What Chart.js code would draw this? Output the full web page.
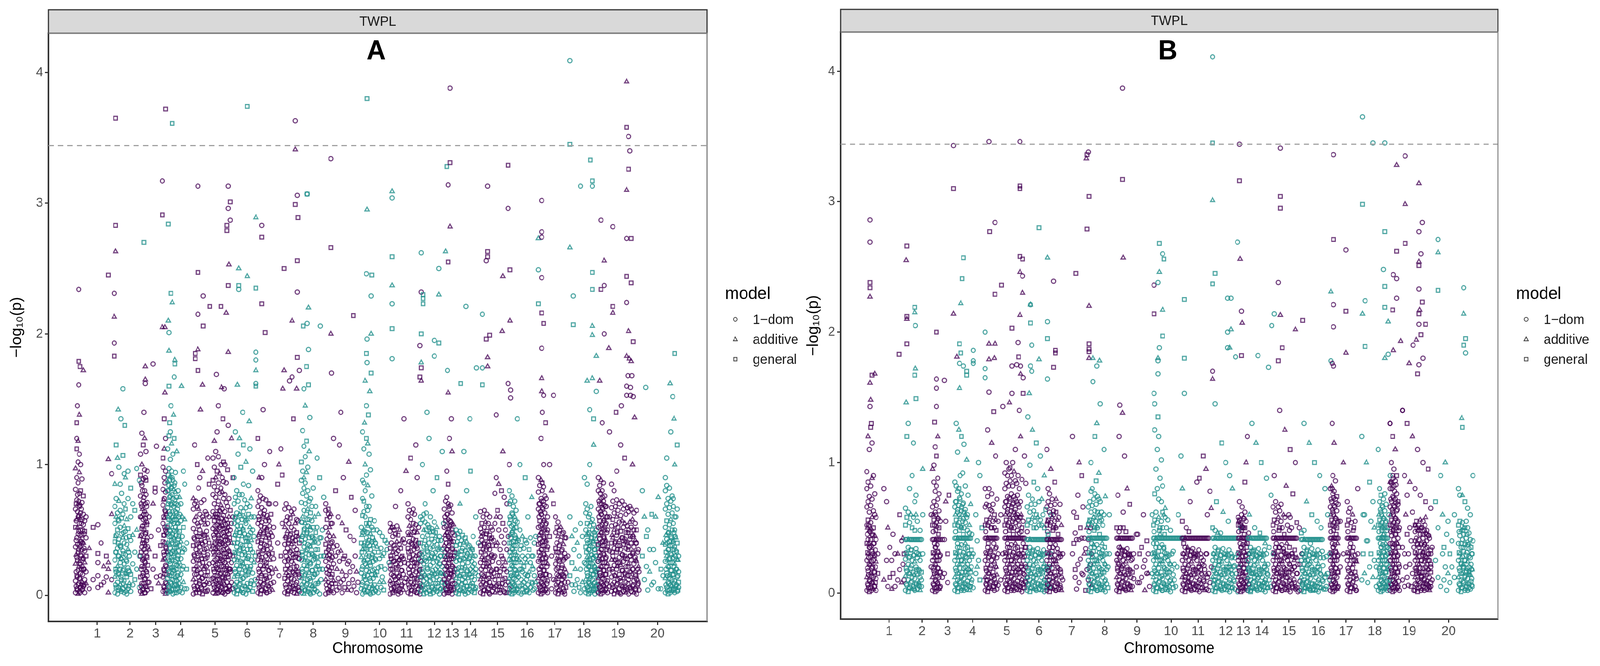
<!DOCTYPE html>
<html>
<head>
<meta charset="utf-8">
<script src="https://cdn.jsdelivr.net/npm/chart.js@4.4.1/dist/chart.umd.min.js"></script>
<style>
  html, body { margin: 0; padding: 0; background: #fff; overflow: hidden; }
  #page { position: relative; width: 4230px; height: 1704px; transform-origin: 0 0; }
  .panel { position: absolute; top: 0; height: 1704px; }
</style>
</head>
<body>
<div id="page">
  <div class="panel" style="left:0;width:2120px"><canvas id="chartA" width="2120" height="1704"></canvas></div>
  <div class="panel" style="left:2120px;width:2110px"><canvas id="chartB" width="2110" height="1704"></canvas></div>
</div>
<script>
// chromosome labels and their tick positions on the cumulative position axis (0..1000)
const chromosomes = ["1","2","3","4","5","6","7","8","9","10","11","12","13","14","15","16","17","18","19","20"];
const tickPos = [74,124,163,201,253,302,352,402,451,503,544,586,613,641,682,727,769,813,865,925];
const yTicks = [0, 1, 2, 3, 4];
const threshold = 3.44;
const models = ["1\u2212dom", "additive", "general"];

// upper markers, one string per chromosome: <model><position>:<-log10 p>
// model letters: c = 1-dom, t = additive, s = general
const topA = [
"s102:3.65 s102:2.83 t102:2.63 s91:2.45 c46:2.34 c100:2.31 t100:2.13 c100:1.93 s100:1.83 s46:1.79 s48:1.75 t53:1.72 c46:1.61 c44:1.45 t47:1.38 s43:1.32",
"s145:2.7 c113:1.58 t106:1.42 c110:1.35 s116:1.3",
"s178:3.72 c173:3.17 s173:2.91 t173:2.05 t177:2.05 c159:1.77 t147:1.75 t147:1.65 c147:1.62 t177:1.55 c145:1.4 s176:1.35",
"s188:3.61 s182:2.84 s186:2.31 t188:2.24 t182:2.1 c183:2.01 t183:1.87 t192:1.8 s192:1.77 c191:1.67 s183:1.6 t202:1.6 c186:1.45 t190:1.38 s184:1.32",
"c227:3.13 c273:3.13 s276:3.01 c273:2.96 c276:2.87 s271:2.83 s271:2.79 t274:2.53 s227:2.47 s273:2.37 c235:2.29 s245:2.21 s262:2.21 t270:2.16 c227:2.15 s235:2.06 t227:1.88 t273:1.86 s223:1.85 s223:1.81 s227:1.72 c255:1.69 t234:1.61 t263:1.59 c267:1.58 c258:1.45 t231:1.42 s265:1.35 c273:1.3",
"s302:3.74 t315:2.89 t289:2.5 t302:2.44 s289:2.37 s315:2.35 c289:2.34 c315:1.86 c315:1.8 t315:1.72 c315:1.62 t287:1.61 s315:1.6 c295:1.4 t305:1.33",
"c375:3.63 t375:3.41 c378:3.06 s375:2.99 s379:2.89 c324:2.83 s324:2.74 s378:2.56 s358:2.5 c378:2.32 s324:2.23 t370:2.1 s329:2.01 s378:1.82 t358:1.72 c381:1.72 c370:1.67 c366:1.64 t356:1.58 t377:1.58 c326:1.42 s372:1.35",
"c393:3.07 s393:3.07 t395:2.2 c393:2.08 s387:2.06 c413:2.06 c395:1.88 s392:1.75 s395:1.61 c388:1.58 t390:1.45 c397:1.36",
"c429:3.34 s429:2.66 s463:2.14 t429:2 c430:1.7 c444:1.4",
"s484:3.8 t522:3.09 c522:3.04 t484:2.95 s522:2.59 c483:2.46 s491:2.45 t522:2.37 c490:2.29 c522:2.23 s522:2.04 t490:2 c484:1.96 s483:1.85 c522:1.81 c484:1.78 s490:1.7 t481:1.64 t488:1.56 c483:1.45 s486:1.38 t480:1.32",
"c566:2.32 c564:1.91 s566:1.74 s564:1.67 t566:1.64 c540:1.35",
"s605:3.28 t603:2.63 c566:2.62 c593:2.5 t593:2.3 s569:2.3 s569:2.27 s569:2.23 s566:2 c586:1.95 s593:1.93 c586:1.83 t566:1.78 c606:1.72 c575:1.4",
"c610:3.88 s610:3.31 c607:3.14 t610:2.82 s607:2.55 t607:1.55 c612:1.35",
"c634:2.21 c659:2.15 c650:1.74 c659:1.74 s626:1.62 s659:1.61 c640:1.35",
"s698:3.29 c667:3.13 c698:2.96 s667:2.63 s667:2.59 c665:2.56 s701:2.49 t690:2.44 t701:2.1 t689:2.02 s670:1.99 s665:1.96 t667:1.82 t667:1.75 c698:1.62 c702:1.57 c702:1.51 c680:1.38",
"t744:2.73 c744:2.49 s744:2.23 c712:1.35",
"c749:3.02 c749:2.78 c749:2.74 c749:2.43 s749:2.16 s752:2.08 c749:1.89 t749:1.66 t749:1.56 c752:1.53 c767:1.53 c750:1.4 s755:1.32",
"c792:4.09 s792:3.45 s823:3.33 s826:3.17 c808:3.13 c826:3.13 t792:2.66 s826:2.47 s826:2.34 c797:2.29 s797:2.07 t826:2.06 t826:1.99 t832:1.83 t826:1.66 t818:1.64 c832:1.56 c822:1.42 s828:1.35",
"t878:3.93 s878:3.58 c881:3.51 c883:3.4 s881:3.26 t878:3.1 c839:2.87 c857:2.82 c878:2.73 s885:2.73 t844:2.56 s878:2.44 s885:2.39 c844:2.37 s839:2.34 c878:2.24 s857:2.21 t857:2.16 t881:2.02 c844:2 s888:1.94 t851:1.89 t878:1.83 t882:1.81 t885:1.79 c880:1.68 c886:1.68 t837:1.64 c878:1.6 c884:1.59 c878:1.53 c884:1.53 c888:1.52 c870:1.45 s862:1.4 t890:1.36 c841:1.32",
"s951:1.85 t944:1.62 c907:1.59 c948:1.52 t950:1.35"
];

// lower markers, grouped by position: "<position>:<model><-log10 p> ...; ..."
const coreA = [
"41:c.02 c.11 t.24 c.37 s.52 c.66 c.81 t.97; 43:c.05 s.15 c.29 c.44 t.58 c.73 c.9 s1.12 c1.2; 45:t.01 c.08 c.19 s.33 c.47 c.6 t.7 c.86 c1.02 t1.18; 47:c.03 c.13 t.26 c.39 c.55 s.68 c.78 t.94 c1.08; 49:s.06 c.17 c.31 t.42 c.5 c.63 s.8 c1; 51:c.04 t.1 c.22 c.35 s.46 c.58 c.71 c.89; 53:c.07 s.2 c.28 t.4 c.54 c.62 s.76; 55:c.02 c.12 t.25 c.34 s.49 c.57; 57:t.09 c.18 s.3 c.44 c.6; 62:c.05 t.36; 68:c.12 s.52; 75:c.54 s.32 c.25 c.15 c.06; 80:s.08 c.4; 84:c.1 t.22; 88:c.14 s.3; 91:t1.04 t.25 t.2 t.02; 96:c.93 t.62 c.12",
"101:c.02 t.14 c.27 s.41 c.55 c.68 t.85; 103:s.06 c.18 c.33 c.46 t.6 c.74 s1.15; 105:c.01 c.1 t.22 c.36 s.5 c.63 t1.05; 107:c.04 s.16 c.3 c.43 c.57 t.72 c.98; 109:t.08 c.2 c.25 s.38 c.52 c.65 c.85; 111:c.03 c.12 t.28 c.47 s.59 c.78; 113:s.05 c.19 c.34 t.44 c.62 s1.07; 115:c.02 c.11 s.24 c.4 t.53 c.7 c.93; 117:c.07 t.17 c.31 c.49 s.66 t.9; 119:c.01 s.14 c.26 c.39 t.58; 121:c.05 c.21 t.35 s.51 c.74 c.95; 123:t.09 c.18 c.3 s.45; 125:c.03 s.16 c.42 c.6 s.82; 128:c.08 c.24 t.46 c.7; 131:s.12 c.33 s.65; 134:c.2 t.5 c.97; 138:c.06 c.3 c.88",
"140:c.03 s.14 c.3 t.45 c.6 c.76 s.92 c1.08; 142:t.01 c.09 c.22 c.37 s.51 c.68 c.84 t1 c1.24; 144:c.05 c.17 t.28 s.42 c.58 c.72 c.89 s1.15; 146:s.02 c.12 c.26 c.4 t.55 c.64 c.8 c.96 t1.2; 148:c.07 t.19 c.33 s.48 c.62 c.77 s.88 c1.1; 150:c.04 c.15 s.29 c.44 t.56 c.71 c.95; 153:c.1 t.35 c.6; 156:s.05 c.45; 159:c.2 t.7; 162:s.3 c.79 s.82; 164:c.14 c1.14; 167:t.09 c.5; 170:c.15 s.38; 174:c.03 c.14 t.27 s.41 c.55 c.69 c.81 c.98 s1.05; 176:c.06 s.19 c.31 c.46 t.59 c.74 c.9 t1.12; 178:t.01 c.1 c.23 c.37 c.5 s.64 c.79 c.95 c1.2; 180:c.04 c.16 t.33 c.52",
"181:c.02 s.13 c.27 t.4 c.53 c.67 s.8 t.87 c1.12; 183:c.06 c.18 t.31 c.45 s.58 c.72 c.84 c.97 s1.22; 185:t.03 c.1 c.24 s.36 c.49 c.62 c.76 t.91 c1.04 c1.25; 187:c.05 s.15 c.29 c.42 t.56 c.69 s.83 c.95 t1.16; 189:c.01 c.12 t.21 c.34 c.47 s.6 c.74 c.88 c1.08; 191:s.08 c.19 c.32 t.44 c.58 c.7 c.84 s1.2; 193:c.04 t.14 c.26 s.39 c.52 c.64 t.79 c.94; 195:c.02 c.11 c.23 s.37 t.5 c.63 c.75 t1.1; 197:t.07 c.17 s.3 c.43 c.55 c.69 c.8; 199:c.03 c.13 t.25 c.38 s.49 c.62 t.75; 201:s.06 c.16 c.28 t.41 c.57 c.7; 203:c.02 c.2 s.33 c.45 t.6; 205:t.1 c.22 c.36 s.52 c.95; 207:c.05 c.35 t.58 c.85; 210:c.05 s.2 c.4",
"220:c.01 t.12 c.26 s.38 c.51 c.66 t.74; 222:c.05 c.16 s.3 c.43 c.57 c.7 c1.15; 224:s.02 c.1 t.22 c.35 c.48 t.6 c.72; 226:c.07 c.19 c.32 s.45 c.55 c.68 s1; 228:t.04 c.14 c.27 c.4 s.53 t.66 c.82; 230:c.02 s.11 c.24 c.37 c.5 c.62 c.9; 232:c.06 c.17 t.3 s.42 c.56 c.71; 234:s.01 c.13 c.25 c.39 t.47 c.6 t.95; 236:c.08 t.2 c.33 c.46 s.58 c.73; 238:c.03 c.15 s.28 c.41 t.54 c.64; 240:t.1 c.22 c.36 c.49 s.62; 242:c.04 s.18 c.31 t.44 c.55 c1.05; 244:c.09 c.24 s.4 c.6 s.85; 247:c.12 t.35; 250:c.02 s.13 c.25 t.38 c.51 c.64 c.77 s.88 c1.05; 252:c.06 c.18 t.31 c.44 s.57 c.7 c.83 c.98 t1.18; 254:t.01 c.11 c.23 c.36 c.49 s.62 c.75 t.9 c1.1; 256:c.04 s.15 c.28 t.41 c.54 c.67 c.8 s.95 c1.25; 258:s.08 c.2 c.33 c.46 t.59 c.72 c.86 c1.06; 260:c.03 c.12 t.26 s.39 c.52 c.65 c.78 t.93; 262:c.06 c.17 c.3 c.43 s.56 t.69 c.82 c1; 264:t.02 s.14 c.27 c.4 c.53 c.66 t.79 c.9; 266:c.09 c.22 s.35 c.48 c.61 c.74 c.87 s1.02; 268:c.01 t.13 c.25 c.38 s.51 c.64 c.77 c1; 270:s.05 c.19 c.32 t.45 c.58 c.71 c.86; 272:c.03 c.16 t.29 c.42 s.55 c.68 s.96; 274:c.07 s.2 c.34 c.47 t.6 c.74; 276:t.04 c.18 c.31 c.5 c.2 s.65; 278:c.1 c.25 t.4 c.55 t1.2; 280:c.05 s.3 c.6 s.9",
"282:c.02 t.14 c.27 s.4 c.55 c.7 c.9; 284:c.06 c.18 t.32 c.46 s.6 c.75 c1.25; 286:s.01 c.1 c.23 c.37 t.5 c.63 c.8; 288:c.04 t.16 c.29 s.43 c.57 c.72 c1.08; 290:c.08 c.2 s.34 c.48 t.62 c.77 t1.2; 292:t.03 c.12 c.26 c.39 s.53 c.67 s.98; 294:c.05 s.17 c.31 t.45 c.58 c.77; 296:c.02 c.13 t.24 c.36 s.5 c.64 c.85 s1.15; 298:s.07 c.21 c.33 c.47 t.6 c.73; 300:c.01 c.15 t.28 s.41 c.55 c.67 t1.02; 302:c.09 c.22 c.35 s.44 t.58 c.7; 304:t.04 c.18 c.3 c.46 s.62 c.84; 306:c.06 s.2 c.38 t.52 c.68 c1.12; 308:c.11 c.27 t.42 c.6 t.74; 310:s.03 c.17 c.33 c.5 c.95; 312:c.08 t.25 c.45 c.6; 314:c.12 c.3",
"318:c.02 t.13 c.27 s.41 c.55 c.68 c.8 s1.2; 320:c.06 c.18 t.31 c.45 s.58 c.72 t.9; 322:s.01 c.1 c.23 c.37 t.49 c.63 c.76; 324:c.04 t.16 c.29 s.42 c.56 c.67 c.9; 326:c.08 c.2 s.34 c.47 t.6 c.74; 328:t.03 c.12 c.26 c.39 s.52 c.65 c1; 330:c.05 s.15 c.3 t.44 c.57 c.73; 332:c.02 c.11 t.22 c.35 s.5 c.61; 334:s.07 c.19 c.32 c.46 t.59 c.7; 336:c.03 c.14 t.27 s.4 c.53 c.7 c1.1; 338:c.09 c.21 c.36 t.48 s.62; 340:t.04 c.17 s.32 c.45; 342:c.1 c.28 c.52; 345:c.7 t.2; 348:s.85 c.4; 350:t1 c.15; 353:c1.12 s.3; 355:s.92 c.55; 359:c.02 s.13 c.26 c.39 t.52 c.66; 361:c.06 t.17 c.3 s.44 c.57 c.7; 363:s.01 c.11 c.23 c.36 t.49 c.6; 365:c.04 c.15 t.28 s.42 c.55 c.67; 367:t.08 c.2 c.33 c.46 s.59; 369:c.03 s.13 c.26 t.39 c.52 c.64; 371:c.07 c.18 c.31 s.44 t.62; 373:s.02 c.12 t.24 c.37 c.5 c.66; 375:c.05 c.16 s.29 c.42 t.55; 377:t.01 c.1 c.22 c.35 s.48 c.58; 379:c.06 s.18 c.32 t.45 c.57; 381:c.03 c.14 c.28 s.4",
"384:c.02 t.13 c.27 s.42 c.56 c.71 c.88 s1.02; 386:c.06 c.18 s.31 c.45 t.6 c.78 c.95 c1.26; 388:t.01 c.1 c.23 c.37 s.5 c.65 c.82 t.9 c1.14; 390:c.04 s.16 c.29 c.43 t.55 c.7 c.86 c1.06; 392:c.08 c.2 t.34 s.47 c.62 c.76 t.94 s1.18; 394:s.03 c.12 c.26 c.39 c.53 t.66 c.8 c.98; 396:c.05 t.17 c.31 s.44 c.58 c.72 t1.1; 398:c.01 c.11 c.24 t.37 c.5 s.63 c.74; 400:t.07 c.19 s.32 c.45 c.57 c.68; 402:c.02 c.14 c.27 t.4 s.52 c.82; 404:s.05 c.16 c.3 c.43 t.6; 406:c.09 t.22 c.35 s.48 c.68; 408:c.03 c.17 s.29 c.52 c1.05; 410:t.1 c.25 c.4 t.62; 412:c.01 s.2 c.44 s.9; 414:c.12 s.3 c.44; 416:c.2 c.5; 418:c.3 c.75",
"421:c.01 t.12 c.26 s.39 c.52 c.65 c.7; 423:c.05 c.17 t.3 c.43 s.58; 425:s.02 c.1 c.22 c.35 t.48 c.62 s.66; 427:c.07 c.19 s.31 c.45 t.52 c.6; 429:t.03 c.14 c.27 s.4 c.55 t.62; 431:c.06 s.16 c.29 c.41 c.55; 433:c.02 t.11 c.24 c.37 t.45 c1.2; 436:s.09 c.3 s.8; 438:c.04 t.2 c.38; 440:c.13 c.33 c.6; 442:s.06 c.26 c1.15; 444:c.1 t.34; 446:c.02 t.18 t.55; 448:c.12 s.28 c.9; 450:s.06 s.3; 452:c.15 s.5; 454:t.04 c.24; 456:c.09 c.26 t1.02; 458:c.18 c.45; 460:c.04 s.75; 462:c.12 c.22; 464:c.07 c.42; 466:c.3 c.65; 468:t.18 c.02; 470:c.1",
"475:c.05 c.17 t.29 s.4 c.52; 477:c.01 c.1 c.22 t.35 c.48 s.61 c.74 c.88 c1.25; 479:c.04 s.14 c.26 c.38 t.5 c.64 s.72 c.86 c1.12; 481:t.02 c.12 c.24 s.36 c.49 c.6 c.8 t1; 483:c.07 c.19 t.31 c.44 s.55 c.68 c.92 s1.2; 485:s.03 c.15 c.27 c.4 t.53 c.65 t.84 t1.16; 487:c.06 t.18 c.3 s.42 c.55 c.68 c1.08; 489:c.01 c.11 c.23 c.35 t.47 s.58 c.96; 491:t.05 c.16 s.29 c.41 c.52 c.76; 493:c.02 c.13 c.26 t.38 s.5; 495:s.08 c.2 c.33 t.42 c.57; 497:c.03 t.15 c.27 c.4; 499:c.06 s.18 t.37 c.5; 501:c.02 c.21 s.33; 503:t.1 c.28 c.48; 505:c.06 s.22 c.36; 507:c.14 t.3 c.45; 509:s.04 t.1 c.32; 511:c.2 s.42; 514:c.35 c.4; 517:c.25",
"519:c.01 t.11 c.23 s.36 c.49 c.55; 521:c.05 c.16 s.28 c.4 t.52; 523:s.02 c.09 c.2 t.33 c.45 s.52; 525:c.06 c.14 c.26 s.38 c.5; 527:t.03 c.12 c.24 c.36 s.47 c.68; 529:c.07 s.17 c.29 t.41 c.53; 531:c.01 c.1 t.22 c.34 s.46; 533:s.05 c.15 c.27 c.39 t.5; 535:c.02 t.13 c.24 s.36 c.8; 537:c.08 c.19 s.3 t.42; 539:t.04 c.16 c.28 c.43; 541:c.1 s.25 c.4; 543:c.13 t.95; 546:c.02 t.12 c.24 s.36 c.48 c.6 c.7; 548:c.06 c.17 s.29 c.41 t.53 c.65; 550:s.01 c.1 c.22 c.34 t.46 c.58 s1.05; 552:c.04 t.15 c.27 s.39 c.51 c.63; 554:t.08 c.19 c.31 c.43 s.55 c.66; 556:c.03 s.13 c.25 t.37 c.49 c.62; 558:c.07 c.18 t.3 s.42 c.54 c1.15; 560:s.02 c.12 c.24 c.36 t.48 c.9; 562:c.05 t.16 c.28 s.4 c.52; 564:c.01 c.09 s.2 c.32; 566:t.06 c.14 c.26",
"565:c.03 t.14 c.27 s.4 c.55 c.6; 568:c.07 c.18 t.31 c.45 s.58 c1; 570:s.01 c.11 c.24 c.37 t.5 c.62; 572:c.05 t.16 c.29 s.42 c.56 c.7; 574:c.02 c.13 c.26 t.38 s.5 c.63; 576:t.08 c.2 s.33 c.46 c.54; 578:c.04 c.15 t.28 c.4 s.52 c1.2; 580:s.01 c.11 c.23 c.36 t.48 c.6; 582:c.06 t.17 c.3 s.43 c.51; 584:c.02 c.12 c.25 t.37 s.49 c.8; 586:t.05 c.16 s.29 c.41 c.56; 588:c.09 c.2 c.33 t.45 s.48; 590:s.03 c.14 c.26 c.39 t.52 s.9; 592:c.07 t.18 c.28 s.42; 594:c.01 c.12 s.24 t.36 c.45; 596:c.05 t.17 c.3 c.42; 598:s.1 c.22 c.35 c1.1; 600:c.04 t.16 c.55; 602:c.09 s.3",
"601:c.01 s.12 c.25 t.38 c.52 c.66; 603:c.05 c.16 t.29 c.43 s.57 c.72; 605:s.02 c.1 c.22 c.35 t.48 c.62 c.75 c.95; 607:c.07 t.19 c.31 s.45 c.58 c.7 s.85; 609:t.03 c.14 c.27 c.4 s.53 c.66 c1.2; 611:c.06 s.17 c.3 t.43 c.56 c.69; 613:c.01 c.11 t.23 c.36 s.5 c.63 t1.1; 615:s.04 c.15 c.28 c.41 t.54; 617:c.09 c.2 s.33 c.46",
"619:c.02 t.13 c.26 s.38 c.5; 621:c.06 c.17 t.29 c.41 s.47; 623:s.01 c.1 c.21 t.33 c.44; 625:c.04 t.15 c.27 s.39 c.49 t.7; 627:c.08 c.19 s.31 c.42; 629:t.03 c.12 c.24 c.36 s.46; 631:c.05 s.16 c.28 t.4 c1.1; 633:c.01 c.1 t.22 c.34 s.44; 635:s.07 c.18 c.3 t.41 c.8; 637:c.02 t.13 c.25 s.37; 639:c.05 c.16 s.28 c.38; 641:t.09 c.2 c.33 s.95; 643:c.03 s.14 c.26 t.36; 645:c.07 c.18 t.3 c.45; 647:s.02 c.12 c.24; 649:c.06 c.2 c.6; 653:c.4 c.15",
"656:c.02 t.12 c.25 s.38 c.51 c.64; 658:c.06 c.16 t.29 c.42 s.55 c.48; 660:s.01 c.1 c.22 c.35 t.47 c.6; 662:c.04 t.14 c.27 s.39 c.52 c.65; 664:c.08 c.19 s.31 c.44 t.56; 666:t.03 c.12 c.24 c.37 s.49 c.62; 668:c.05 s.16 c.29 t.41 c.55; 670:c.01 c.1 t.22 c.35 s.46 c.6; 672:s.07 c.18 c.3 t.43 c.52; 674:c.03 t.14 c.26 s.38 c.5; 676:c.06 c.17 s.29 c.42; 678:t.02 c.12 c.3 c.55 c.78; 680:c.07 s.2 c.38 t.6 c.9; 682:c.04 c.15 t.4 s.65; 684:s.09 c.25 c.5 t.85; 686:c.02 c.18 c.35 c.6; 688:t.06 s.3 c.45 s.8; 690:c.12 c.28 s.55 t1.1; 692:c.03 s.2 c.4 c.75; 694:c.08 t.25 c.5; 696:s.02 c.18 c.35 c.7; 698:c.1 c.45; 700:c.05 c1",
"700:c.02 t.13 c.27 s.4 c.55 c.7 c.8; 702:c.06 c.17 t.3 c.44 s.58 c.72; 704:s.01 c.1 c.23 c.36 t.49 c.63 c.76; 706:c.04 t.15 c.28 s.41 c.54 c.68; 708:c.08 c.2 s.33 c.46 t.6 c.72; 710:t.03 c.12 c.25 c.38 s.52 c.65; 712:c.05 s.17 c.3 t.43 c.56; 714:c.02 c.14 t.27 c.42; 716:s.07 c.2 c.35 c.5 c1; 718:c.01 c.12 t.25 s.38; 720:c.05 c.18 c.3 t.45; 722:t.02 c.1 s.22 c.36; 724:c.06 c.16 c.28 s.42 s.9; 726:s.03 c.12 t.25 c.4; 728:c.08 c.15 c.3 c.6; 730:c.02 t.18 s.35; 732:c.06 c.25 c.44; 734:s.1 c.3 t.75; 736:c.04 c.3 c.2; 738:c.05 c.15 c.4; 740:c.45 t.1",
"744:c.02 t.13 c.26 s.39 c.52 c.66 c.79 c.9; 746:c.06 c.17 t.3 c.43 s.57 c.7 c.84; 748:s.01 c.1 c.22 c.35 t.48 c.62 c.74 t.88 c1.2; 750:c.04 t.15 c.28 s.41 c.54 c.67 c.8 s.86; 752:c.08 c.19 s.32 c.45 t.58 c.72 c.83 c1; 754:t.03 c.12 c.25 c.38 s.5 c.63 c.76; 756:c.05 s.16 c.29 t.42 c.55 c.68 c.74; 758:c.02 c.11 t.24 c.37 c.5 c.6; 761:c.15 s.45 c1; 764:c.05 t.8 c.3; 767:c.12 s.7; 770:c.02 t.12 c.24 s.36 c.48 c.6; 772:c.06 c.16 t.28 c.4 s.52; 774:s.01 c.1 c.21 c.33 t.45 c.56; 776:c.04 t.14 c.26 s.38 c.5; 778:c.08 c.18 s.3 c.42 t.52; 780:t.02 c.12 c.23 c.35 s.47 c.16; 782:c.05 s.15 c.27 t.39 c.48; 784:c.01 c.1 t.2 c.32 s.44; 786:s.06 c.17 c.29 c.44; 789:c.1 c.3",
"792:c.6 s.15; 795:c.08 s.25 t.45; 798:c.03 c.35; 800:c.08 t.2 c.5; 803:c.12 t.4; 806:s.06 c.3; 808:c.02 c.2 c.55; 811:t.1 c.45; 814:c.05 c.25 c.9; 816:c.02 t.12 c.24 s.37 c.5 c.63 c.7; 818:c.06 c.17 t.29 c.42 s.55 c.66 c.85; 820:s.01 c.1 c.22 c.35 t.47 c.6; 822:c.04 t.14 c.27 s.4 c.53 c.62 c1; 824:c.08 c.19 s.31 c.44 t.56 c.68; 826:t.03 c.12 c.24 c.37 s.5 c.58; 828:c.05 s.16 c.29 t.41 c.54 t1.15; 830:c.01 c.1 t.22 c.35 s.46; 832:s.07 c.18 c.3 t.43 c.5; 834:c.03 t.14 c.26 s.38",
"835:c.02 t.13 c.26 s.39 c.52 c.66 c.8 c.9; 837:c.06 c.17 t.3 c.43 s.57 c.7 c.84; 839:s.01 c.1 c.22 c.35 t.48 c.62 c.74 t.88; 841:c.04 t.15 c.28 s.41 c.54 c.67 c.8; 843:c.08 c.19 s.32 c.45 t.58 c.72 c.86; 845:t.03 c.12 c.25 c.38 s.5 c.63 c.76; 847:c.05 s.16 c.29 t.42 c.55 c.68; 849:c.02 c.11 t.24 c.37 c.5 c.6; 852:c.07 s.2 c.34 c.6 c1.25; 855:c.03 c.14 t.27 s.4 c.53 c.67 c.85; 857:c.06 c.18 c.3 t.44 s.58 c.72; 859:s.01 c.1 c.23 c.36 t.5 c.63 c.8; 861:c.04 t.15 c.27 s.41 c.54 c.68; 863:c.08 c.2 s.33 c.46 t.6 c.73 c.95; 865:t.02 c.12 c.25 c.38 s.52 c.65; 867:c.05 s.16 c.29 t.42 c.56 c.7; 869:c.01 c.11 t.23 c.35 s.49 c.61 c1.15; 871:s.07 c.19 c.31 c.44 t.57 c.72; 873:c.03 t.13 c.26 s.39 c.52 c.66; 875:c.06 c.17 s.3 c.43 t.55 c.69 s1.05; 877:t.02 c.1 c.22 c.36 s.48 c.62; 879:c.05 s.15 c.28 t.4 c.53 c.67; 881:c.01 c.12 t.24 c.37 s.5 c.64; 883:s.06 c.18 c.3 c.43 t.56 c.68; 885:c.03 t.14 c.27 s.4 c.52 c.66; 887:c.07 c.2 s.32 c.45 t.58 t1; 889:t.02 c.11 c.24 c.37 s.5 c.63; 891:c.05 s.16 c.29 t.42 c.55; 893:c.01 c.12 t.26 c.4 s.5 c.65; 895:s.08 c.2 c.33 t.12; 897:c.04 c.18",
"902:c.8 s.3; 905:c.12 t.6; 908:s.45 c.22; 910:c.5 c.04; 913:c.35 t.18; 916:c.08 s.62; 919:c.35 c.1; 922:t.6 c.25; 926:t.75 c.05; 930:c.05 s.2; 933:c.15 t.4; 937:c.02 t.13 c.26 s.39 c.52 c.66 c.8 c.9; 939:c.06 c.17 t.3 c.43 s.57 c.7 c.84 c1.05; 941:s.01 c.1 c.22 c.35 t.48 c.62 c.74; 943:c.04 t.15 c.28 s.41 c.54 c.67 c.82; 945:c.08 c.19 s.32 c.45 t.58 c.72 c1.25; 947:t.03 c.12 c.25 c.38 s.5 c.63 c.76; 949:c.05 s.16 c.29 t.42 c.55 c.68 c.74; 951:c.02 c.11 t.24 c.37 c.5 c.6 t1; 953:s.07 c.2 c.34 t.44 c.6; 955:c.03 c.14 t.27 s.4 c.66 s1.15; 957:c.06 c.18 c.3 s.1"
];

// the packed lowest markers that make the solid cores of each chromosome
const denseA = [
"42:c.07 c.18 t.31 c.42 c.57 s.7; 44:s.04 c.14 c.27 c.39 t.52 c.64 c.77; 46:c.09 t.22 c.35 c.49 s.61 c.72; 48:c.02 c.13 s.24 c.37 c.46 t.59 c.69; 50:t.08 c.2 c.3 s.41 c.55 c.66; 52:c.05 c.16 t.28 c.4 c.5; 54:s.08 c.2 c.36 c.47",
"102:c.08 s.2 c.33 t.45; 106:c.06 c.17 c.3 s.4 c.58; 110:t.04 c.14 c.28 c.37; 114:c.09 c.2 s.32 c.48; 118:c.03 t.16 c.27 c.44; 122:s.07 c.19 c.33",
"141:c.07 c.2 s.33 c.46 t.6 c.7 c.86; 143:s.04 c.15 c.27 c.4 c.53 t.66 c.8; 145:c.09 t.22 c.35 s.5 c.62 c.75; 147:c.02 c.13 c.25 t.38 c.47 s.59 c.7 c.9; 149:t.06 c.18 c.3 c.42 s.54 c.68; 151:c.1 s.23 c.37; 175:c.07 c.2 c.33 s.46 c.6 t.73; 177:s.04 c.16 t.28 c.4 c.52 c.65 c.86; 179:c.09 c.22 s.36 c.48 t.62",
"182:c.08 c.2 s.33 c.47 t.6 c.7 c.8 c.92; 184:s.03 c.15 c.26 t.39 c.5 c.64 c.75 s.88; 186:c.09 t.21 c.32 c.45 s.57 c.7 c.82; 188:c.04 c.17 s.27 c.4 t.52 c.64 c.77 c.9; 190:t.07 c.19 c.3 s.43 c.55 c.68 t.81; 192:c.02 s.11 c.24 c.36 c.49 t.6 c.73 c.86; 194:c.08 c.2 t.33 c.46 s.58 c.7; 196:s.05 c.15 c.28 c.4 t.55 c.66; 198:c.09 t.22 c.34 s.45 c.6",
"221:c.07 s.2 c.31 c.44; 225:t.04 c.16 c.27 s.39; 229:c.09 c.2 t.33 c.45; 233:s.05 c.13 c.28 c.4; 237:c.08 t.22 c.35 s.46; 241:c.03 c.15 c.29; 251:c.08 s.2 c.33 c.46 t.6; 253:t.04 c.15 c.27 s.4 c.53; 255:c.09 c.21 t.35 c.48 s.6; 257:s.02 c.12 c.24 c.37 t.5 c.62; 259:c.07 t.19 c.31 s.44 c.56; 261:c.04 c.16 s.28 c.41 t.53 c.64; 263:t.09 c.22 c.34 c.47 s.59; 265:c.02 s.13 c.26 t.39 c.51; 267:c.08 c.2 s.32 c.45 t.57; 269:s.05 c.17 t.29 c.42 c.54; 271:c.1 t.23 c.36 s.49; 273:c.03 s.14 c.27 c.4 t.52; 275:c.07 c.2 t.33 s.44",
"283:c.08 c.2 s.33 t.46 c.59; 287:s.04 c.15 t.27 c.4 c.53; 291:c.09 t.22 c.35 s.48 c.61; 295:c.02 c.13 s.25 c.38 t.51; 299:t.07 c.19 c.31 s.44 c.57; 303:c.04 s.16 c.28 t.41; 307:c.09 c.22 s.35 c.48",
"319:c.08 c.2 s.33 t.46 c.6; 323:s.04 c.15 t.27 c.4 c.53; 327:c.09 t.22 c.35 s.48 c.62; 331:c.02 c.13 s.25 c.38 t.51; 335:t.07 c.19 c.31 s.44 c.57; 360:c.08 s.2 c.33 t.45; 364:c.03 t.15 c.27 s.4; 368:c.09 c.21 t.34 c.47; 372:s.05 c.17 c.29 t.41; 376:c.08 t.2 s.32 c.45; 380:c.04 c.16 c.28",
"385:c.08 c.2 s.33 t.46 c.56; 389:s.04 c.15 t.27 c.4 c.51; 393:c.09 t.22 c.35 s.48 c.58; 397:c.02 c.13 s.25 c.38 t.52; 401:t.07 c.19 c.31 s.44; 405:c.04 s.16 c.28 t.41; 409:c.09 c.22 s.35",
"422:c.08 c.2 s.33; 426:t.04 c.16 c.28 s.37; 430:c.09 s.21 c.33",
"476:c.08 c.2 s.33 t.46; 480:s.04 c.15 t.27 c.4; 484:c.09 t.22 c.35 s.48; 488:c.02 c.13 s.25 c.38; 492:t.07 c.19 c.31 s.44; 496:c.04 s.16 c.28",
"520:c.08 c.2 s.3; 524:t.04 c.15 c.26; 528:c.09 s.21 c.32; 532:c.03 c.14 t.27; 536:s.07 c.19 c.29; 547:c.08 c.2 s.33 t.46; 551:s.04 c.15 t.27 c.4; 555:c.09 t.22 c.35 s.48; 559:c.02 c.13 s.25 c.38; 563:t.07 c.19 c.31",
"567:c.08 c.2 s.33; 571:t.04 c.15 c.27; 575:c.09 s.21 c.34; 579:c.03 c.14 t.28; 583:s.07 c.19 c.32; 587:c.04 t.16 c.29; 591:c.09 c.22 s.35; 595:t.05 c.17 c.3",
"602:c.08 c.2 s.33 t.46 c.6; 604:s.04 c.15 t.27 c.4 c.53; 606:c.09 t.22 c.35 s.48 c.62; 608:c.02 c.13 s.25 c.38 t.51 c.68; 610:t.07 c.19 c.31 s.44 c.57; 612:c.04 s.16 c.28 t.41 c.54; 614:c.09 c.22 s.35 c.48; 616:c.05 t.18 c.3",
"620:c.08 c.2 s.32; 624:t.04 c.15 c.27; 628:c.09 s.21 c.34; 632:c.03 c.14 t.28; 636:s.07 c.19 c.32; 640:c.04 t.16 c.29; 644:c.09 c.22 s.35; 648:t.05 c.17 c.3",
"657:c.08 c.2 s.33 t.45; 661:s.04 c.15 t.27 c.4; 665:c.09 t.22 c.35 s.47; 669:c.02 c.13 s.25 c.38; 673:t.07 c.19 c.31 s.44; 681:c.08 c.2; 685:s.04 c.15; 689:c.09 t.22; 693:c.02 s.13",
"701:c.08 c.2 s.33 t.46 c.6; 703:s.04 c.15 t.27 c.4 c.53; 705:c.09 t.22 c.35 s.48 c.62; 707:c.02 c.13 s.25 c.38 t.51; 709:t.07 c.19 c.31 s.44 c.57; 711:c.04 s.16 c.28 t.41; 719:c.08 c.2; 727:s.04 c.15; 735:c.09 t.22",
"745:c.08 c.2 s.33 t.46 c.6 c.7; 747:s.04 c.15 t.27 c.4 c.53 c.64; 749:c.09 t.22 c.35 s.48 c.62 c.72; 751:c.02 c.13 s.25 c.38 t.51 c.66; 753:t.07 c.19 c.31 s.44 c.57 c.69; 755:c.04 s.16 c.28 t.41 c.54; 757:c.09 c.22 s.35 c.48; 771:c.08 c.2 s.33; 775:t.04 c.15 c.27; 779:c.09 s.21 c.34; 783:c.03 c.14 t.28",
"817:c.08 c.2 s.33 t.46; 819:s.04 c.15 t.27 c.4; 821:c.09 t.22 c.35 s.48; 823:c.02 c.13 s.25 c.38; 825:t.07 c.19 c.31 s.44; 827:c.04 s.16 c.28 t.41; 829:c.09 c.22 s.35 c.48; 831:c.05 t.18 c.3; 833:c.08 c.2",
"836:c.08 c.2 s.33 t.46 c.6 c.72; 838:s.04 c.15 t.27 c.4 c.53 c.64 c.78; 840:c.09 t.22 c.35 s.48 c.62 c.7; 842:c.02 c.13 s.25 c.38 t.51 c.66 c.75; 844:t.07 c.19 c.31 s.44 c.57 c.69; 846:c.04 s.16 c.28 t.41 c.54 c.68; 848:c.09 c.22 s.35 c.48 c.6; 856:c.08 c.2 s.33 t.46; 860:s.04 c.15 t.27 c.4; 864:c.09 t.22 c.35 s.48; 868:c.02 c.13 s.25 c.38; 872:t.07 c.19 c.31 s.44; 876:c.04 s.16 c.28 t.41; 880:c.09 c.22 s.35 c.48; 884:c.05 t.18 c.3 c.45; 888:c.08 c.2 s.33 t.46; 892:s.04 c.15 t.27 c.4; 896:c.09 t.22 c.35",
"938:c.08 c.2 s.33 t.46; 940:s.04 c.15 t.27 c.4; 942:c.09 t.22 c.35 s.48; 944:c.02 c.13 s.25 c.38; 946:t.07 c.19 c.31 s.44; 948:c.04 s.16 c.28 t.41; 950:c.09 c.22 s.35 c.48; 952:c.05 t.18 c.3 c.45; 954:c.08 c.2 s.33; 956:s.04 c.15 t.27"
];

const topB = [
"c45:2.86 c45:2.69 s101:2.66 t100:2.55 s45:2.38 s45:2.34 t45:2.27 s101:2.12 t101:2.1 s101:1.91 s89:1.83 s48:1.67 t52:1.68 t45:1.61 t46:1.48 c45:1.43 s47:1.3",
"s113:2.19 t113:2.15 c114:2.05 t114:1.72 s113:1.67 s115:1.49 t100:1.46 c103:1.3",
"c172:3.43 s172:3.1 t172:2.14 s146:2 t177:1.81 c146:1.64 c158:1.63 c146:1.57 c146:1.43 s143:1.31",
"s187:2.57 s185:2.41 t183:2.22 c220:2 s181:1.91 c202:1.86 s183:1.84 c202:1.78 c181:1.76 c202:1.76 c187:1.74 c220:1.72 s192:1.7 s192:1.67 c220:1.65 t181:1.57 c176:1.3",
"c226:3.46 c273:3.46 s273:3.12 s273:3.1 c235:2.84 s227:2.77 s273:2.58 s277:2.56 t273:2.46 c277:2.43 s245:2.36 t277:2.3 s235:2.29 t273:2.13 s261:2.03 c270:1.92 t226:1.91 t235:1.91 s271:1.81 t234:1.8 t226:1.79 c268:1.75 c261:1.74 c274:1.74 t274:1.68 c278:1.65 c226:1.54 c261:1.53 s278:1.53 t257:1.46 c247:1.43 c272:1.4 s233:1.39",
"s302:2.8 t315:2.57 c289:2.21 t289:2.21 c315:2.08 s289:2.07 s315:1.95 c291:1.9 t302:1.79 c289:1.74 c291:1.7 c315:1.64 t287:1.53 c285:1.35",
"c377:3.38 s375:3.36 t374:3.33 s378:3.04 s375:2.79 s358:2.45 c324:2.39 t378:2.2 s378:1.91 s378:1.87 s327:1.86 s378:1.85 s327:1.84 t378:1.8 s324:1.73",
"t384:1.8 t394:1.78 c390:1.74 c384:1.62 c395:1.45 t390:1.3",
"c429:3.87 s429:3.17 t430:2.57 c477:2.36 s477:2.14 c425:1.44 t429:1.38",
"s485:2.68 c490:2.6 s492:2.56 t485:2.46 c483:2.38 s523:2.25 t490:2.17 s490:1.97 c485:1.88 t483:1.8 s523:1.8 c483:1.78 c483:1.68 c477:1.53 c523:1.53 c478:1.45 s483:1.35",
"c566:1.7 t566:1.64",
"c566:4.11 s566:3.45 t566:3.01 c604:2.69 s570:2.45 s566:2.37 c589:2.26 c594:2.26 t594:2.02 c589:2 t592:1.88 c589:1.88 c601:1.81 c570:1.45",
"c607:3.44 s607:3.16 t608:2.56 c610:2.16 t611:2.07 s610:1.82",
"c660:2.14 c656:2.05 c635:1.82 c651:1.73",
"c669:3.41 s669:3.04 s669:2.95 c666:2.38 t669:2.13 s703:2.09 t692:2.02 s672:1.88 s666:1.78 c668:1.4",
"t746:2.31 c746:1.78 c705:1.3",
"c750:3.36 s750:2.71 c769:2.63 c750:2.21 s769:2.16 c750:2.04 t769:1.84 c748:1.76 c750:1.74 c748:1.3",
"c794:3.65 c810:3.45 c828:3.45 s794:2.98 s828:2.77 c826:2.48 s828:2.35 c798:2.24 s828:2.19 t794:2.14 t833:2.08 s798:1.89 c833:1.83 t828:1.8",
"c859:3.35 t846:3.28 t880:3.14 t859:2.98 c885:2.84 c880:2.77 s859:2.68 s846:2.62 c883:2.6 t880:2.54 s880:2.51 c841:2.44 c846:2.41 c880:2.33 c846:2.26 s885:2.23 s840:2.17 t881:2.17 s880:2.14 c880:2.06 s890:2.06 s883:1.98 t876:1.94 t852:1.93 c871:1.9 t841:1.86 c886:1.8 t865:1.76 c880:1.75 s878:1.68 c855:1.4 c836:1.3 s862:1.3",
"c909:2.71 t909:2.61 c948:2.34 s909:2.32 t948:2.14 s951:1.95 s948:1.9 c951:1.84 t945:1.34"
];

const coreB = [
"40:c.02 t.12 c.25 s.38 c.52 c.66 c.8 c.93; 42:c.06 c.17 t.3 c.41 s.56 c.7 c.85 t1.2; 44:s.01 c.1 c.22 c.35 t.48 c.62 c.74 c1.1; 46:c.04 t.15 c.28 s.41 c.54 c.67 c.82 s1.27; 48:c.08 c.19 s.32 c.45 t.58 c.72 t.88 c1.15; 50:t.03 c.12 c.25 c.38 s.5 c.63 c.9; 52:c.05 s.16 c.29 t.44 c.6 c.76; 54:c.02 c.11 t.24 c.41 c.58; 57:c.3 s.15; 66:c.8 t.1; 70:c.7 c.25; 72:t.5 c.05; 75:c.35 s.12; 78:c.25 t.03; 80:s.15 c.45; 83:c.05 c.3; 87:t.3 c.1; 90:c.18 s.6; 93:c.4 t.08; 95:t.42 c.22; 97:c.1 s.3",
"99:c.02 t.13 c.26 c.41 s.52 c.65; 101:c.06 c.17 t.3 c.41 s.58 s1.2; 103:s.01 c.1 c.22 c.35 t.41 c.62; 105:c.04 t.15 c.28 c.41 c.54 c.8; 107:c.08 c.19 s.33 c.41 t.6; 109:t.03 c.12 c.25 c.41 s.5 c.9; 111:c.05 s.16 c.29 c.41 c.58 c1.15; 113:c.02 c.11 t.24 c.41 s.48 c.7; 115:s.07 c.2 c.34 c.41 t.6 c.75; 117:c.03 t.14 c.27 c.41 c.55; 119:c.06 c.18 s.3 c.41 t.08; 121:t.02 c.12 c.25 c.41 c.48; 123:c.05 s.16 c.41 c.1; 125:c.6 c.3 t.95",
"138:c.6 c.2; 140:c.02 t.12 c.25 c.41 s.52 c.66 t.95; 142:c.06 c.17 t.3 c.41 s.56 c.7 c.85 c.98; 144:s.01 c.1 c.22 c.35 t.41 c.62 c.78 c1.12; 146:c.04 t.15 c.28 c.41 c.54 c.67 c.82 s1.05; 148:c.08 c.19 s.32 c.41 t.58 c.72 c.88 t1.2; 150:t.03 c.12 c.25 c.41 s.5 c.63 c.76; 152:c.05 s.16 c.29 c.41 c.55; 155:c.41 c.12; 158:c.15 c.41; 160:c.55 t.7; 163:s.3 c.08; 165:s.75",
"174:c.02 t.12 c.25 c.42 s.52 c.66 c.85; 176:c.06 c.17 t.3 c.42 s.56 c.7 c.82; 178:s.01 c.1 c.22 c.35 t.42 c.62 c.78 c1.08; 180:c.04 t.15 c.28 c.42 c.54 c.67 s.8 t1.25; 182:c.08 c.19 s.32 c.42 t.58 c.72 c.9; 184:t.03 c.12 c.25 c.42 s.5 c.63 c.76 s1.2; 186:c.05 s.16 c.29 c.42 c.55 c.68 c.92; 188:c.02 c.11 t.24 c.42 c.5 s.62 c1.14; 190:s.07 c.2 c.34 c.42 t.6 c.82; 192:c.03 t.14 c.27 c.42 c.58 t1.02; 194:c.06 c.18 s.3 c.42 c.75; 196:t.02 c.12 c.25 c.42 t.52; 198:c.05 s.16 c.42 t.68; 200:c.1 s.28 c.45; 202:c.04 c.3; 206:c.6 c.15; 208:t.2 c.4; 210:c1 c.25; 212:c.9 s.1; 215:s.5",
"220:c.02 t.12 c.25 c.42 s.52 c.66 c.8; 222:c.06 c.17 t.3 c.42 s.56 c.68 s.1; 224:s.01 c.1 c.22 c.35 t.42 c.52 c.74 c1.25; 226:c.04 t.15 c.28 c.42 c.54 c.67 c.8; 228:c.08 c.19 s.32 c.42 t.58 c.64; 230:t.03 c.12 c.25 c.42 s.5 c.63 c.76 t1.15; 232:c.05 s.16 c.29 c.42 c.55 c.68; 234:c.02 c.11 t.24 c.42 c.5 s.6; 236:s.07 c.2 c.34 c.42 t.56 c1.05; 238:c.03 t.14 c.27 c.42 c.72; 240:c.06 c.3 c.55; 244:c.6 c.1; 247:c.3; 250:c.02 t.12 c.25 c.42 s.52 c.66 c.8 c.92; 252:c.06 c.17 t.3 c.42 s.56 c.7 c.84 c1; 254:s.01 c.1 c.22 c.35 t.42 c.62 c.74 c.9; 256:c.04 t.15 c.28 c.42 c.54 c.67 c.82 c.95; 258:c.08 c.19 s.32 c.42 t.58 c.72 c.86 s.96; 260:t.03 c.12 c.25 c.42 s.5 c.63 c.76 c.9; 262:c.05 s.16 c.29 c.42 c.55 c.68 c.82 c1; 264:c.02 c.11 t.24 c.42 c.5 s.62 c.74 t.93; 266:s.07 c.2 c.34 c.42 t.6 c.72 c.86 c1.1; 268:c.03 t.14 c.27 c.42 c.58 c.7 c.84; 270:c.06 c.18 s.3 c.42 c.56 c.68 c.9; 272:t.02 c.12 c.25 c.42 c.52 c.66 c.8; 274:c.05 s.16 c.29 c.42 c.58 c.7 t1.2; 276:c.01 c.1 t.22 c.42 s.5 c.87; 278:c.07 c.18 c.3 c.42 c.55; 280:s.04 c.14 c.28 c.42 c1.05; 282:c.08 c.2 s.35 c.84; 284:c.12 c.47",
"284:c.02 t.12 c.25 c.41 s.52 c.66; 286:c.06 c.17 t.3 c.41 s.56 c.75; 288:s.01 c.1 c.22 c.35 t.41 c.62 c.98; 290:c.04 t.15 c.28 c.41 c.54 c.68; 292:c.08 c.19 s.32 c.41 t.58 c.72 t1.25; 294:t.03 c.12 c.25 c.41 s.5 c.63 s.85; 296:c.05 s.16 c.29 c.41 c.55 c.68; 298:c.02 c.11 t.24 c.41 c.5 s.6 s1.15; 300:s.07 c.2 c.34 c.41 t.58 c.8; 302:c.03 t.14 c.27 c.41 c.52 c.7; 304:c.06 c.18 s.3 c.41 c.56 c1.05; 306:t.02 c.12 c.25 c.41 c.52 t.72; 308:c.05 s.16 c.29 c.41 c.6; 310:c.01 c.1 t.22 c.41 s.5 t.9; 312:c.07 c.18 c.3 c.41 s.64; 314:s.04 c.2 c.41; 316:c.1 s.45; 318:c.2 c.05; 320:c.6 c.3",
"314:c.02 t.12 c.25 c.41 s.52 c.66 c1.1; 316:c.06 c.17 t.3 c.41 s.56 c.7 c.8; 318:s.01 c.1 c.22 c.35 t.41 c.62 c.76; 320:c.04 t.15 c.28 c.41 c.54 c.67 t.95; 322:c.08 c.19 s.32 c.41 t.58 c.72; 324:t.03 c.12 c.25 c.41 s.5 c.63 c.6; 326:c.05 s.16 c.29 c.41 c.55 c.68 s.85; 328:c.02 c.11 t.24 c.41 c.5 s.62 t.72; 330:s.07 c.2 c.34 c.41 t.56; 332:c.03 t.14 c.27 c.41 c.58; 334:c.06 c.18 s.3 c.41 c.68; 336:t.02 c.12 c.41 t.52; 338:c.1 c.3; 353:c1.2 c.3; 355:s.38 c.62; 357:c.46 c.12 s.18; 359:s.58 c.03 c.41; 361:c.75 c.22; 363:t1 c.41 c.08; 365:c.26 s.5; 367:c.42 c.15 s.9; 369:c.14 c.66; 371:c.42 t.3; 373:c.34 s.02; 375:t.5 c.18; 377:c.1 c.41; 380:c.5 c.22; 382:c.3 t.06",
"377:c.02 t.12 c.25 c.42 s.52 c.66; 379:c.06 c.17 t.3 c.42 s.56 c.7 c.21; 381:s.01 c.1 c.22 c.35 t.42 c.62 c.78 c1; 383:c.04 t.15 c.28 c.42 c.54 c.67 c.8; 385:c.08 c.19 s.32 c.42 t.58 c.72 t.37; 387:t.03 c.12 c.25 c.42 s.5 c.63 c.76 s1.2; 389:c.05 s.16 c.29 c.42 c.55 c.68 s.86; 391:c.02 c.11 t.24 c.42 c.5 s.62 c.74; 393:s.07 c.2 c.34 c.42 t.6 c.72 t.92; 395:c.03 t.14 c.27 c.42 c.58 c.7; 397:c.06 c.18 s.3 c.42 c.56 c.62; 399:t.02 c.12 c.25 c.42 c.52 c.33; 401:c.05 s.16 c.29 c.42 c.6 c1.1; 403:c.01 c.1 t.22 c.42 t.74; 405:c.07 c.18 c.3 c.42; 407:s.04 c.2; 409:c.3 c.6",
"420:c.02 t.12 c.25 c.42 s.5; 422:c.06 c.17 t.3 c.42 s.23 c.75; 424:s.01 c.1 c.22 c.35 t.42 c.47 c1.2; 426:c.04 t.15 c.28 c.42 c.5 t.35; 428:c.08 c.19 s.32 c.42 t.2; 430:t.03 c.12 c.25 c.42 s.5 c.62; 432:c.05 s.16 c.29 c.42 c.32 c1.05; 434:c.02 c.11 t.24 c.42 s.47; 436:s.07 c.2 c.34 c.42 t.8; 438:c.03 t.14 c.27 c.42 s.29; 440:c.06 c.18 s.3 c.42 s.68; 442:t.02 c.12 c.25 c.42; 444:c.05 s.16 c.26 c.42; 446:c.11 c.3; 450:c.2 c.45; 452:c.45 c.08; 455:c.08 s.3; 458:s.35 c.12; 461:c.6 c.2; 463:c.25 t.02; 466:s.4 c.15; 468:t.15 c.3; 470:c.05",
"474:c.6 c.3 c.15; 476:c.02 t.12 c.25 c.42 s.52 c.38; 478:c.06 c.17 t.3 c.42 s.56 s.76 c1.25; 480:s.01 c.1 c.22 c.35 t.42 c.62 t.28 c.95; 482:c.04 t.15 c.28 c.42 c.54 c1.1 c.8; 484:c.08 c.19 s.32 c.42 t.58 c.72 c1.2; 486:t.03 c.12 c.25 c.42 s.5 t.45 c.88; 488:c.05 s.16 c.29 c.42 c.55 c.7 c1.02; 490:c.02 c.11 t.24 c.42 c.5 s.62 c.82; 492:s.07 c.2 c.34 c.42 t.6 s.35; 494:c.03 t.14 c.27 c.42 c.58 t.65; 496:c.06 c.18 s.3 c.42 c.5; 498:t.02 c.12 c.25 c.42 c.56; 500:c.05 s.16 c.29 c.42; 502:c.01 c.1 t.22 c.42 c.48; 504:c.07 c.18 c.3 c.42; 506:s.04 c.14 c.32 c.42; 508:c.1 c.42 c.22; 510:c.05 c.42; 512:c.42 c.2; 514:c.42 c.6; 516:c.42; 518:c.42 c1.05; 520:c.42 t.8",
"520:c.02 t.12 c.25 c.42 s.55; 522:c.06 c.17 t.3 c.42 s.38; 524:s.01 c.1 c.22 c.35 t.42 c.12; 526:c.04 t.15 c.28 c.42 c.5; 528:c.08 c.19 s.32 c.42 t.35; 530:t.03 c.12 c.25 c.42 s.47 t.08; 532:c.05 s.16 c.29 c.42 c.7; 534:c.02 c.11 t.24 c.42 c.32; 536:s.07 c.2 c.34 c.42; 538:c.03 t.14 c.27 c.42 t.28; 540:c.06 c.18 s.3 c.42; 542:t.02 c.12 c.25 c.42 c.85; 544:c.05 s.16 c.29 c.42; 546:c.01 c.1 t.22 c.42 s.88; 548:c.07 c.18 c.3 c.42; 550:s.04 c.14 c.22 c.42; 552:c.1 c.25 c.42 s1.05; 554:t.02 c.18 c.42; 556:c.06 c.3 c.42 t.95; 558:c.12 c.42 c.6; 560:c.02 c.15 c.42; 562:c.08 c.78; 564:t.65 c.2",
"566:c.02 t.12 c.25 c.42 s.5; 568:c.06 c.17 t.3 c.42 s.1; 570:s.01 c.1 c.22 c.35 t.42 c.48; 572:c.04 t.15 c.28 c.42 s.7; 574:c.08 c.19 s.32 c.42 t.46; 576:t.03 c.12 c.25 c.42 s.24; 578:c.05 s.16 c.29 c.42 c.46; 580:c.02 c.11 t.24 c.42 s1.15; 582:s.07 c.2 c.34 c.42 t.62; 584:c.03 t.14 c.27 c.42; 586:c.06 c.18 s.3 c.42 c1; 588:t.02 c.12 c.25 c.42 s.2; 590:c.05 s.16 c.29 c.42 c.55; 592:c.01 c.1 t.22 c.42 c.9; 594:c.07 c.18 c.3 c.42; 596:s.04 c.14 c.28 c.42 t.8; 598:c.1 c.2 c.42; 600:c.03 c.27 c.42; 602:c.42 c.15; 604:c.01 c.3; 606:c.2; 609:c.5",
"605:c.02 t.12 c.25 c.42 s.52 c.58; 607:c.06 c.17 t.3 c.42 s.56 c.7; 609:s.01 c.1 c.22 c.35 t.42 c.54; 611:c.04 t.15 c.28 c.42 c.5 c.66; 613:c.08 c.19 s.32 c.42 t.58 c.5; 615:t.03 c.12 c.25 c.42 s.5 c.62 s.85; 617:c.05 s.16 c.29 c.42 c.55 t1; 619:c.02 c.11 t.24 c.42 s.38 c1.2; 621:c.07 c.3 c.46",
"620:c.02 t.12 c.25 c.42 s.18; 622:c.06 c.17 t.3 c.42 t.6; 624:s.01 c.1 c.22 c.35 t.42 c.02; 626:c.04 t.15 c.28 c.42 s.32 c1.3; 628:c.08 c.19 s.32 c.42 s.15; 630:t.03 c.12 c.25 c.42 c.5; 632:c.05 s.16 c.29 c.42 t1.15; 634:c.02 c.11 t.24 c.42 c.28; 636:s.07 c.2 c.34 c.42 c.12; 638:c.03 t.14 c.27 c.42 s.46; 640:c.06 c.18 s.3 c.42 s1; 642:t.02 c.12 c.25 c.42; 644:c.05 s.16 c.29 c.42 t.08; 646:c.01 c.1 t.22 c.42 t.38; 648:c.07 c.18 c.3 c.42 c.88; 650:s.04 c.14 c.22; 652:c.1 c.35; 655:c.05 c.75; 658:c.3",
"658:c.02 t.12 c.25 c.42 s.52 c.66; 660:c.06 c.17 t.3 c.42 s.56 c.9; 662:s.01 c.1 c.22 c.35 t.42 c.62 c.7; 664:c.04 t.15 c.28 c.42 c.54 c.18; 666:c.08 c.19 s.32 c.42 t.58 c.66; 668:t.03 c.12 c.25 c.42 s.5 c.63 c.35; 670:c.05 s.16 c.29 c.42 c.55 c.68; 672:c.02 c.11 t.24 c.42 c.5 s.15; 674:s.07 c.2 c.34 c.42 t.6 s.32; 676:c.03 t.14 c.27 c.42 c.58 t1.25; 678:c.06 c.18 s.3 c.42 c.12 t.82; 680:t.02 c.12 c.25 c.42 c.52; 682:c.05 s.16 c.29 c.42 c.6 c.28; 684:c.01 c.1 t.22 c.42 c.58 s1.1; 686:c.07 c.18 c.3 c.42 c.5; 688:s.04 c.14 c.28 c.42 s.76; 690:c.1 c.2 c.42 t.25; 692:c.03 c.27 c.42 c.05 c1; 694:c.42 c.15 s.54; 696:c.01 c.22; 698:c.5 c.02; 702:c.3",
"701:c.02 t.12 c.25 c.41 s.46; 703:c.06 c.17 t.3 c.41 s.08; 705:s.01 c.1 c.22 c.35 t.41 c.48; 707:c.04 t.15 c.28 c.41 t.25; 709:c.08 c.19 s.32 c.41 t.7; 711:t.03 c.12 c.25 c.41 s.05; 713:c.05 s.16 c.29 c.41 c.22 t1.15; 715:c.02 c.11 t.24 c.41 c.38; 717:s.07 c.2 c.34 c.41 s.6; 719:c.03 t.14 c.27 c.41 s.02; 721:c.06 c.18 s.3 c.41 s1; 723:t.02 c.12 c.25 c.41; 725:c.05 s.16 c.29 c.41 c.55; 727:c.01 c.1 t.22 c.41; 729:c.07 c.18 c.3 c.41 c.9; 731:s.04 c.14 c.41 c.5; 733:c.1 c.32 c.41; 735:c.03 c.27; 737:c.12 c.8; 739:c.05 c.28; 741:c.6 c.15; 744:c.1 c.3",
"745:c.02 t.12 c.25 c.42 s.52 c.66 c.8; 747:c.06 c.17 t.3 c.42 s.56 c.7 t.82; 749:s.01 c.1 c.22 c.35 t.42 c.62 c.76 c.9; 751:c.04 t.15 c.28 c.42 c.54 c.67 c.78 t1.15; 753:c.08 c.19 s.32 c.42 t.58 c.72 c.86; 755:t.03 c.12 c.25 c.42 s.5 c.63 s.74; 757:c.05 s.16 c.29 c.42 c.55 c.68; 760:c.55 c.2; 765:t1 c.3; 771:c.02 t.12 c.25 c.42 s.52 c.7; 773:c.06 c.17 t.3 c.42 s.56 c.62; 775:s.01 c.1 c.22 c.35 t.42 c.65; 777:c.04 t.15 c.28 c.42 c.54; 779:c.08 c.19 s.32 c.42 t.6; 781:t.03 c.12 c.25 c.42 s.5; 783:c.05 s.16 c.29 c.42 c.55; 785:c.02 c.11 t.24 c.42; 787:c.8 c.3",
"793:c.1 c1.2; 795:c.6 s.3; 797:c.6 t.15; 800:t1 c.4; 802:c.4 c.08; 805:s.85 c.2; 807:s.3 c.55; 810:c.7 t.12; 812:t.5 c.25; 815:c.2 c.05; 818:c.02 t.12 c.25 c.42 s.52 c1.1; 820:c.06 c.17 t.3 c.42 s.56 c.7 c.8; 822:s.01 c.1 c.22 c.35 t.42 c.62 s.75; 824:c.04 t.15 c.28 c.42 c.54 c.67 c.5; 826:c.08 c.19 s.32 c.42 t.58 c.72 t.45; 828:t.03 c.12 c.25 c.42 s.5 c.63 c.76; 830:c.05 s.16 c.29 c.42 c.55 c.68; 832:c.02 c.11 t.24 c.42 c.5 c.35; 834:s.07 c.2 c.34 c.6; 836:c.9 c.1",
"836:c.02 t.12 c.25 c.38 s.52 c.66 c.8 t.85 c1.3; 838:c.06 c.17 t.3 c.44 s.56 c.7 c.84 c1; 840:s.01 c.1 c.22 c.35 t.48 c.62 c.74 c.9 s1.2; 842:c.04 t.15 c.28 c.41 c.54 c.67 c.82 c.95; 844:c.08 c.19 s.32 c.45 t.58 c.72 c.86 t1.1; 846:t.03 c.12 c.25 c.38 s.5 c.63 c.76 s.9; 848:c.05 s.16 c.29 c.42 c.55 c.68 s.7; 850:c.02 c.2 c.5; 855:c.1 c.35 c1.4; 858:c.05 c.3 c.9; 860:t.6 c.2; 862:c.12 s.45 c.75; 864:c.3 c.06; 866:t.85 c.22 c.5; 868:s.05 c.4; 870:c.15 t1.2 c.62; 872:c.02 c.35; 874:c.02 t.12 c.25 c.4 s.52 c.8; 876:c.06 c.17 t.3 c.42 s.55 c.19; 878:s.01 c.1 c.22 c.37 t.48 c1.1; 880:c.04 t.15 c.28 c.41 c.52 c.16; 882:c.08 c.19 s.32 c.45 t.56 c.75; 884:t.03 c.12 c.25 c.38 s.5 c.13; 886:c.05 s.16 c.29 c.42 c.55 c1 t.31; 888:c.02 c.11 t.24 c.37 c.48 c.1; 890:s.07 c.2 c.34 c.46 t.58 s.7 c.28; 892:c.03 t.14 c.27 c.4 s.45 s.07; 894:c.06 c.18 s.3 c.44 c.25 s.95; 896:t.02 c.12 c.25 c.42 c.04; 898:c.05 s.16 c.3 c.65 s.22; 900:c.1 c.35",
"905:s.7 c.25; 909:c.12 c.5; 913:c.9 c.05; 916:t.6 c.3; 918:s.35 c.1; 920:t1 c.2; 922:c.45 c.02; 924:t.15 c.55; 927:c.08 s.3; 930:c.2 c.4; 934:c.12 c.6; 940:c.02 t.12 c.25 c.38 s.52 c.8; 942:c.06 c.17 t.3 c.44 s.55 c.75; 944:s.01 c.1 c.22 c.35 t.48 c.23; 946:c.04 t.15 c.28 c.41 c.54 t.75 s1.27; 948:c.08 c.19 s.32 c.45 t.5 s.2; 950:t.03 c.12 c.25 c.38 s.5 s.7; 952:c.05 s.16 c.29 c.42 c.55 c.17; 954:c.02 c.11 t.24 c.37 c.5 c.65; 956:s.07 c.2 c.34 c.46 t.14; 958:c.03 t.14 c.27 c.41 c.6; 960:c.06 c.18 c.3 c.11; 962:c.9 c.4"
];

const denseB = [
"41:c.07 c.19 s.31 c.45 t.5; 43:s.04 c.14 c.27 t.38 c.52; 45:c.09 t.22 c.35 c.47; 47:c.02 c.13 s.24 c.36 t.49; 49:t.08 c.2 c.3 s.44; 51:c.05 c.16 t.28 c.38; 53:s.08 c.2 c.33",
"100:c.07 s.19 c.31; 104:t.04 c.15 c.27; 108:c.09 c.21 s.33; 112:c.03 t.14 c.29; 116:s.07 c.18 c.31; 120:c.05 c.17 t.29",
"141:c.07 c.19 s.31 c.47 t.6; 143:s.04 c.15 t.27 c.38 c.52; 145:c.09 t.22 c.35 s.48 c.6; 147:c.02 c.13 s.25 c.37 t.51; 149:t.07 c.19 c.31 s.45 c.57; 151:c.04 s.16 c.28",
"175:c.07 c.19 s.31 c.47 t.6 c.7; 178:s.04 c.15 t.27 c.38 c.52 c.64; 181:c.09 t.22 c.35 s.48 c.6 c.73; 184:c.02 c.13 s.25 c.37 t.51 c.66; 187:t.07 c.19 c.31 s.45 c.57 c.69; 190:c.04 s.16 c.28 t.38 c.54 c.64; 193:c.09 c.22 s.35 c.48 c.6; 196:c.05 t.18 c.3 c.46; 199:c.08 c.2 s.33",
"221:c.07 s.19 c.31 c.47; 225:t.04 c.15 c.27 s.38; 229:c.09 c.21 t.33 c.5; 233:s.05 c.13 c.28 c.38; 237:c.08 t.2 c.35 s.48; 251:c.07 c.19 s.31 c.47 t.6 c.7; 254:s.04 c.15 t.27 c.38 c.52 c.64; 257:c.09 t.22 c.35 s.48 c.6 c.73; 260:c.02 c.13 s.25 c.37 t.51 c.66; 263:t.07 c.19 c.31 s.45 c.57 c.69; 266:c.04 s.16 c.28 t.38 c.54 c.64; 269:c.09 c.22 s.35 c.48 c.6 c.75; 272:c.05 t.18 c.3 c.46 s.58; 275:c.08 c.2 s.33 c.47 t.6; 278:s.04 c.15 t.27 c.38; 281:c.09 c.22 s.35",
"285:c.07 s.19 c.31; 289:t.04 c.15 c.27; 293:c.09 c.21 s.33; 297:c.03 t.14 c.29; 301:s.07 c.18 c.31; 305:c.05 c.17 t.29; 309:c.08 s.2 c.33; 313:t.04 c.15",
"315:c.07 c.19 s.31 c.47 t.55; 319:s.04 c.15 t.27 c.38 c.52; 323:c.09 t.22 c.35 s.48; 327:c.02 c.13 s.25 c.37 t.51; 331:t.07 c.19 c.31 s.45; 335:c.04 s.16 c.28",
"378:c.07 c.19 s.31 c.47 t.55; 382:s.04 c.15 t.27 c.38 c.52; 386:c.09 t.22 c.35 s.48 c.58; 390:c.02 c.13 s.25 c.37 t.51; 394:t.07 c.19 c.31 s.45 c.55; 398:c.04 s.16 c.28 t.38; 402:c.09 c.22 s.35",
"421:c.07 s.19 c.3; 425:t.04 c.15 c.27; 429:c.09 c.21 s.33; 433:c.03 t.14 c.29; 437:s.07 c.18 c.3; 441:c.05 c.17 t.29",
"477:c.07 c.19 s.31 c.47; 481:s.04 c.15 t.27 c.38; 485:c.09 t.22 c.35 s.48; 489:c.02 c.13 s.25 c.37; 493:t.07 c.19 c.31 s.45; 497:c.04 s.16 c.28; 501:c.09 c.22",
"521:c.07 s.19 c.3; 525:t.04 c.15 c.27; 529:c.09 c.21 s.33; 533:c.03 t.14 c.29; 537:s.07 c.18 c.3; 541:c.05 c.17 t.29; 545:c.08 s.2 c.33; 549:t.04 c.15 c.27; 553:c.09 c.21; 557:c.03 t.14 c.3",
"567:c.07 s.19 c.3; 571:t.04 c.15 c.27; 575:c.09 c.21 s.33; 579:c.03 t.14 c.29; 583:s.07 c.18 c.3; 587:c.05 c.17 t.29; 591:c.08 s.2 c.33; 595:t.04 c.15 c.27; 599:c.09 c.21",
"606:c.07 c.19 s.31 c.47 t.55; 608:s.04 c.15 t.27 c.38 c.52; 610:c.09 t.22 c.35 s.48 c.6; 612:c.02 c.13 s.25 c.37 t.51; 614:t.07 c.19 c.31 s.45 c.57; 616:c.04 s.16 c.28 t.38; 618:c.09 c.22 s.35",
"621:c.07 s.19 c.3; 625:t.04 c.15 c.27; 629:c.09 c.21 s.33; 633:c.03 t.14 c.29; 637:s.07 c.18 c.3; 641:c.05 c.17 t.29; 645:c.08 s.2 c.33; 649:t.04 c.15",
"659:c.07 c.19 s.31 c.47; 663:s.04 c.15 t.27 c.38; 667:c.09 t.22 c.35 s.48; 671:c.02 c.13 s.25 c.37; 675:t.07 c.19 c.31 s.45; 679:c.04 s.16 c.28 t.38; 683:c.09 c.22 s.35 c.48; 687:c.05 t.18 c.3; 691:c.08 c.2 s.33; 695:s.04 c.15 t.27; 699:c.09 c.22",
"702:c.07 s.19 c.3; 706:t.04 c.15 c.27; 710:c.09 c.21 s.33; 714:c.03 t.14 c.29; 718:s.07 c.18 c.3; 722:c.05 c.17 t.29; 726:c.08 s.2 c.33; 730:t.04 c.15 c.27; 734:c.09 c.21; 738:c.03 t.14",
"746:c.07 c.19 s.31 c.47 t.6 c.72; 748:s.04 c.15 t.27 c.38 c.52 c.64 c.8; 750:c.09 t.22 c.35 s.48 c.6 c.73; 752:c.02 c.13 s.25 c.37 t.51 c.66; 754:t.07 c.19 c.31 s.45 c.57 c.69; 756:c.04 s.16 c.28 t.38 c.54; 772:c.07 c.19 s.31 c.47; 776:s.04 c.15 t.27 c.38; 780:c.09 t.22 c.35 s.48; 784:c.02 c.13 s.25",
"819:c.07 c.19 s.31 c.47 t.6; 821:s.04 c.15 t.27 c.38 c.52 c.64; 823:c.09 t.22 c.35 s.48 c.6; 825:c.02 c.13 s.25 c.37 t.51 c.66; 827:t.07 c.19 c.31 s.45 c.57; 829:c.04 s.16 c.28 t.38 c.54; 831:c.09 c.22 s.35 c.48; 833:c.05 t.18 c.3",
"837:c.07 c.19 s.31 c.47 t.6 c.72 c.85; 839:s.04 c.15 t.27 c.38 c.52 c.64 c.8; 841:c.09 t.22 c.35 s.48 c.6 c.73 c.88; 843:c.02 c.13 s.25 c.37 t.51 c.66 c.78; 845:t.07 c.19 c.31 s.45 c.57 c.69 c.83; 847:c.04 s.16 c.28 t.38 c.54 c.64; 849:c.09 c.22 s.35 c.48; 874:c.07 c.19 s.31 c.47 t.52; 877:s.04 c.15 t.27 c.38 c.5; 880:c.09 t.22 c.35 s.48; 883:c.02 c.13 s.25 c.37 t.5; 886:t.07 c.19 c.31 s.45; 889:c.04 s.16 c.28 t.38 c.52; 892:c.09 c.22 s.35 c.48; 895:c.05 t.18 c.3 c.44; 898:c.08 c.2 s.33",
"941:c.07 c.19 s.31 c.47; 944:s.04 c.15 t.27 c.38; 947:c.09 t.22 c.35 s.48; 950:c.02 c.13 s.25 c.37; 953:t.07 c.19 c.31 s.45; 956:c.04 s.16 c.28 t.38; 959:c.09 c.22 s.35; 961:c.05 t.18 c.3"
];

// fit the 4230x1704 layout into whatever viewport the page gets
(function () {
  const sx = window.innerWidth / 4230, sy = window.innerHeight / 1704;
  if (Math.abs(sx - 1) > 0.002 || Math.abs(sy - 1) > 0.002) {
    document.getElementById('page').style.transform = 'scale(' + sx + ',' + sy + ')';
  }
})();

Chart.defaults.font.family = '"Liberation Sans", Arial, sans-serif';

const styleOf = { c: 'circle', t: 'triangle', s: 'rect' };
const radiusOf = { c: 5.5, t: 6.5, s: 6.8 };
const purple = 'rgba(68,1,84,0.74)';
const teal = 'rgba(33,144,140,0.78)';

function parseTop(list) {
  const pts = [];
  list.forEach((str, i) => {
    str.trim().split(/\s+/).forEach(tok => {
      const xy = tok.slice(1).split(':');
      pts.push({ x: +xy[0], y: +xy[1], m: tok[0], chr: i + 1 });
    });
  });
  return pts;
}

function parseCore(list) {
  const pts = [];
  list.forEach((str, i) => {
    str.split(';').forEach(group => {
      const parts = group.split(':');
      const x = +parts[0];
      parts[1].trim().split(/\s+/).forEach(tok => {
        pts.push({ x: x, y: +tok.slice(1), m: tok[0], chr: i + 1 });
      });
    });
  });
  return pts;
}

// strip, panel border, panel letter and the model legend
const framePlugin = {
  id: 'frame',
  afterDraw(chart, args, o) {
    const ctx = chart.ctx, a = chart.chartArea;
    ctx.save();
    ctx.fillStyle = '#d9d9d9';
    ctx.fillRect(a.left, o.stripTop, a.right - a.left, a.top - o.stripTop);
    ctx.strokeStyle = '#333';
    ctx.lineWidth = 3;
    ctx.strokeRect(a.left, o.stripTop, a.right - a.left, a.top - o.stripTop);
    ctx.fillStyle = '#1a1a1a';
    ctx.font = '35px "Liberation Sans", Arial, sans-serif';
    ctx.textAlign = 'center';
    ctx.textBaseline = 'middle';
    ctx.fillText('TWPL', (a.left + a.right) / 2, (o.stripTop + a.top) / 2 + 1);

    ctx.strokeStyle = '#808080';
    ctx.lineWidth = 3;
    ctx.beginPath();
    ctx.moveTo(a.left, a.top);
    ctx.lineTo(a.right, a.top);
    ctx.lineTo(a.right, a.bottom);
    ctx.stroke();

    ctx.fillStyle = '#000';
    ctx.font = 'bold 70px "Liberation Sans", Arial, sans-serif';
    ctx.textBaseline = 'alphabetic';
    ctx.fillText(o.letter, (a.left + a.right) / 2 - 4, 152);

    const lx = a.right + 48;
    ctx.textAlign = 'left';
    ctx.font = '44px "Liberation Sans", Arial, sans-serif';
    ctx.fillText('model', lx, 765);
    ctx.font = '35px "Liberation Sans", Arial, sans-serif';
    ctx.fillStyle = '#1a1a1a';
    ctx.strokeStyle = '#3a3a3a';
    ctx.lineWidth = 2;
    const shapes = ['c', 't', 's'];
    models.forEach((name, i) => {
      const base = 829 + i * 51;
      const sx = a.right + 75, sy = base - 12;
      ctx.beginPath();
      if (shapes[i] === 'c') ctx.arc(sx, sy, 5, 0, Math.PI * 2);
      else if (shapes[i] === 't') { ctx.moveTo(sx, sy - 6); ctx.lineTo(sx + 5.5, sy + 4); ctx.lineTo(sx - 5.5, sy + 4); ctx.closePath(); }
      else ctx.rect(sx - 4.5, sy - 4.5, 9, 9);
      ctx.stroke();
      ctx.fillText(name, a.right + 121, base);
    });
    ctx.restore();
  }
};

function makeChart(id, top, core, dense, letter, geo) {
  const points = parseCore(dense).concat(parseCore(core), parseTop(top));
  return new Chart(document.getElementById(id), {
    type: 'scatter',
    data: {
      datasets: [
        {
          type: 'line',
          data: [{ x: 0, y: threshold }, { x: 1000, y: threshold }],
          borderColor: '#a0a0a0',
          borderWidth: 3,
          borderDash: [14, 11],
          pointRadius: 0,
          fill: false
        },
        {
          data: points,
          pointStyle: c => styleOf[c.raw.m],
          pointRadius: c => radiusOf[c.raw.m],
          pointBorderColor: c => (c.raw.chr % 2 ? purple : teal),
          pointBackgroundColor: 'rgba(0,0,0,0)',
          pointBorderWidth: 3
        }
      ]
    },
    options: {
      responsive: false,
      devicePixelRatio: 1,
      animation: false,
      events: [],
      layout: { padding: { left: 0, top: geo.top, right: geo.right, bottom: 0 } },
      plugins: {
        legend: { display: false },
        tooltip: { enabled: false },
        frame: { letter: letter, stripTop: geo.stripTop }
      },
      scales: {
        x: {
          type: 'linear',
          min: 0,
          max: 1000,
          afterBuildTicks: s => { s.ticks = tickPos.map(v => ({ value: v })); },
          afterFit: s => { s.height = geo.xAxisH; },
          ticks: {
            autoSkip: false, maxRotation: 0, minRotation: 0, padding: 2,
            color: '#4d4d4d', font: { size: 34 },
            callback: (v, i) => chromosomes[i]
          },
          grid: { drawOnChartArea: false, drawTicks: true, tickLength: 9, color: '#333', lineWidth: 3 },
          border: { color: '#333', width: 4 },
          title: { display: true, text: 'Chromosome', color: '#000', font: { size: 40 }, padding: { top: 0, bottom: 20 } }
        },
        y: {
          min: -0.2,
          max: 4.3,
          afterBuildTicks: s => { s.ticks = yTicks.map(v => ({ value: v })); },
          afterFit: s => { s.width = geo.yAxisW; },
          ticks: { color: '#4d4d4d', font: { size: 34 }, padding: 5, callback: v => String(v) },
          grid: { drawOnChartArea: false, drawTicks: true, tickLength: 9, color: '#333', lineWidth: 3 },
          border: { color: '#333', width: 4 },
          title: { display: true, text: '\u2212log\u2081\u2080(p)', color: '#000', font: { size: 40 }, padding: { top: geo.yTitlePad, bottom: 0 } }
        }
      }
    },
    plugins: [framePlugin]
  });
}

makeChart('chartA', topA, coreA, denseA, 'A', { top: 85, stripTop: 25, right: 251, xAxisH: 114, yAxisW: 128, yTitlePad: 21 });
makeChart('chartB', topB, coreB, denseB, 'B', { top: 82, stripTop: 24, right: 270, xAxisH: 120, yAxisW: 102, yTitlePad: 7 });
</script>
</body>
</html>
